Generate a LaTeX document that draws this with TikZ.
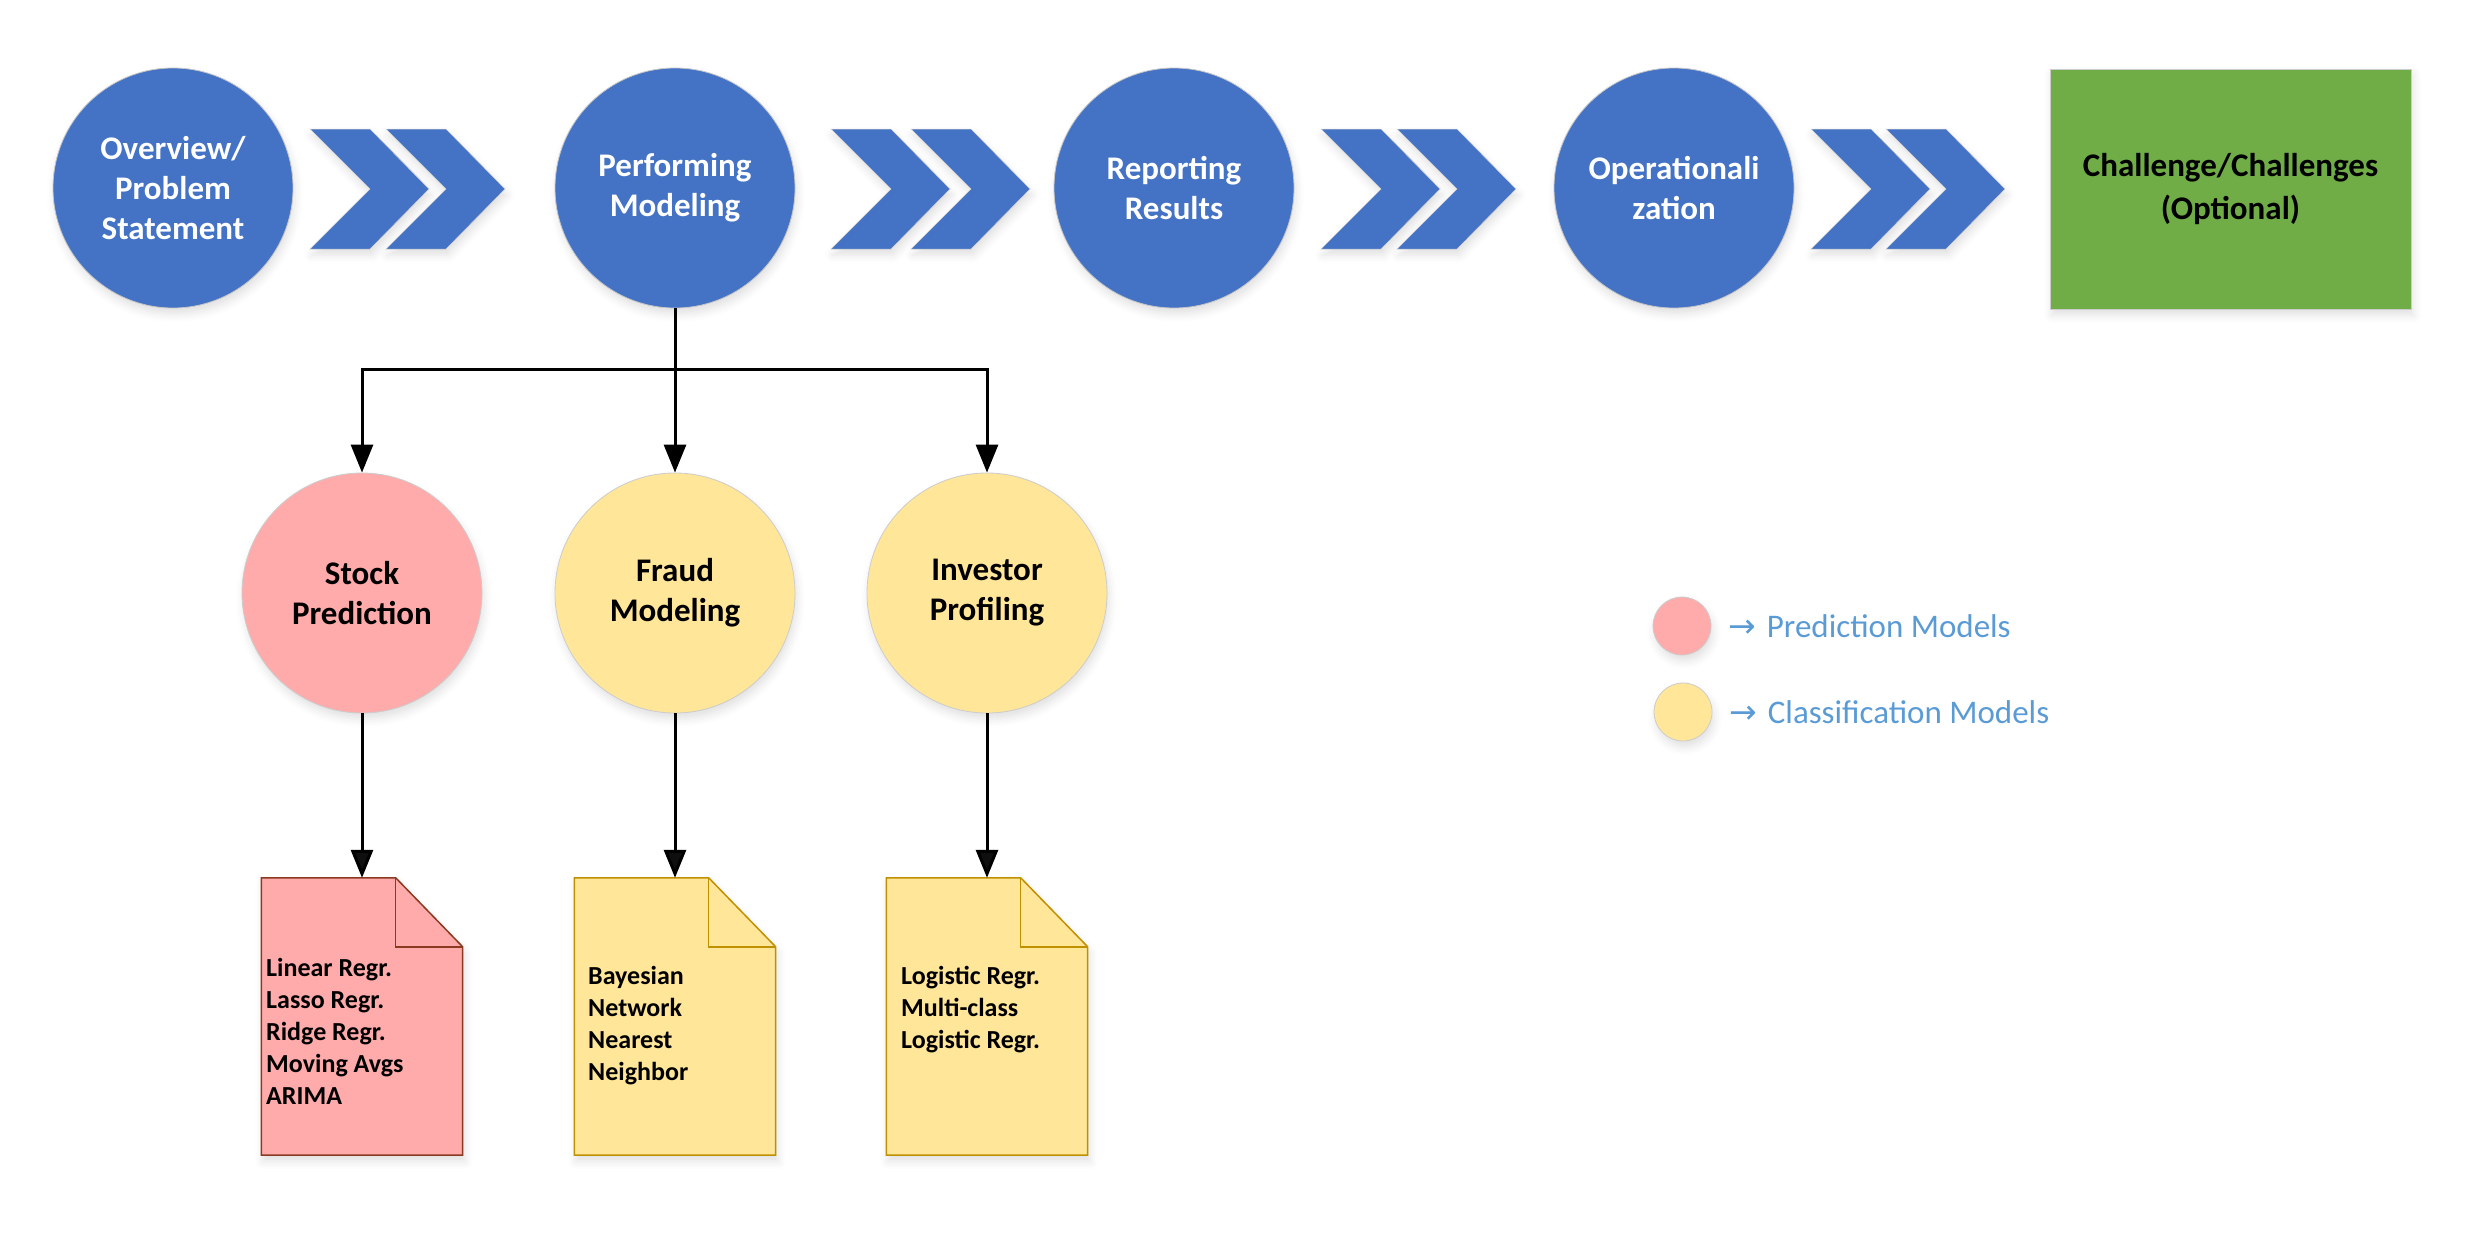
\documentclass[tikz,border=0pt]{standalone}
\usepackage{fontspec}
\setmainfont{Carlito}
\newfontfamily\symfont{DejaVu Sans}
\usetikzlibrary{arrows.meta,shadows.blur}

\definecolor{stageblue}{HTML}{4472C4}
\definecolor{optgreen}{HTML}{70AD47}
\definecolor{predpink}{HTML}{FFABAB}
\definecolor{classyellow}{HTML}{FFE699}
\definecolor{pinkedge}{HTML}{8B3A22}
\definecolor{yellowedge}{HTML}{BF9000}
\definecolor{legendblue}{HTML}{5B9BD5}

\tikzset{
  softshadow/.style={blur shadow={shadow xshift=2pt, shadow yshift=-6pt,
      shadow blur radius=8pt, shadow opacity=12}},
  stage/.style={circle, fill=stageblue, draw=gray!45, line width=0.8pt,
      minimum size=240pt, inner sep=0pt, text=white, align=center,
      font=\bfseries\fontsize{33}{40}\selectfont, softshadow},
  model/.style={circle, draw=gray!40, line width=0.8pt,
      minimum size=240pt, inner sep=0pt, text=black, align=center,
      font=\bfseries\fontsize{33}{40}\selectfont, softshadow},
  optbox/.style={rectangle, fill=optgreen, draw=gray!40, line width=0.8pt,
      minimum width=361pt, minimum height=240pt, inner sep=0pt,
      text=black, align=center,
      font=\bfseries\fontsize{33}{43}\selectfont, softshadow},
  chevfill/.style={fill=stageblue, draw=gray!35, line width=0.5pt, softshadow},
  docbox/.style={rectangle, minimum width=201pt, minimum height=277pt,
      inner sep=0pt, draw=none},
  doctext/.style={anchor=west, align=left, inner sep=0pt,
      font=\bfseries\fontsize{26}{32}\selectfont},
  legdot/.style={circle, draw=gray!40, line width=0.8pt,
      minimum size=58pt, inner sep=0pt, softshadow},
  legtext/.style={anchor=west, inner sep=0pt, text=legendblue,
      font=\fontsize{33}{40}\selectfont},
  conn/.style={line width=3pt, -{Triangle[length=28pt,width=22pt]}},
  chevron/.pic={
    \path[chevfill] (0,0) -- (60,0) -- (119,60) -- (60,120) -- (0,120)
      -- (60,60) -- cycle;
  }
}

\begin{document}
\begin{tikzpicture}[x=1pt,y=-1pt]
\useasboundingbox (0,0) rectangle (2472,1237);

% process stages
\node[stage] (ov) at (173,188) {Overview/\\Problem\\Statement};
\node[stage] (pm) at (675,188) {Performing\\Modeling};
\node[stage] (rr) at (1174,188) {Reporting\\Results};
\node[stage] (op) at (1674,188) {Operationali\\zation};
\node[optbox] (ch) at (2230.5,189) {Challenge/Challenges\\(Optional)};

% double chevrons between stages
\pic at (310,129) {chevron};
\pic at (386,129) {chevron};
\pic at (831,129) {chevron};
\pic at (911,129) {chevron};
\pic at (1321,129) {chevron};
\pic at (1397,129) {chevron};
\pic at (1811,129) {chevron};
\pic at (1886,129) {chevron};

% modelling branches
\node[model, fill=predpink] (sp) at (362,593) {Stock\\Prediction};
\node[model, fill=classyellow] (fm) at (675,593) {Fraud\\Modeling};
\node[model, fill=classyellow] (ip) at (987,593) {Investor\\Profiling};

\coordinate (split) at (675,369);
\draw[conn] (pm.south) -- (fm.north);
\draw[conn] (pm.south) -- (split) -| (sp.north);
\draw[conn] (pm.south) -- (split) -| (ip.north);

% method documents
\node[docbox] (d1) at (362,1016.5) {};
\node[docbox] (d2) at (675,1016.5) {};
\node[docbox] (d3) at (987,1016.5) {};

\foreach \d/\f/\e in {d1/predpink/pinkedge, d2/classyellow/yellowedge, d3/classyellow/yellowedge}{
  \path[fill=\f, draw=\e, line width=1.5pt, softshadow]
    (\d.north west) -- ([xshift=-67pt]\d.north east)
    -- ([yshift=-69pt]\d.north east) -- (\d.south east)
    -- (\d.south west) -- cycle;
  \draw[draw=\e, line width=1.5pt]
    ([xshift=-67pt]\d.north east) |- ([yshift=-69pt]\d.north east);
}

\node[doctext] (t1) at (266,1031) {Linear Regr.\\Lasso Regr.\\Ridge Regr.\\Moving Avgs\\ARIMA};
\node[doctext] (t2) at (588,1026) {Bayesian\\Network\\Nearest\\Neighbor};
\node[doctext] (t3) at (901,1010) {Logistic Regr.\\Multi-class\\Logistic Regr.};

\draw[conn] (sp.south) -- (d1.north);
\draw[conn] (fm.south) -- (d2.north);
\draw[conn] (ip.south) -- (d3.north);

% legend
\node[legdot, fill=predpink] (lg1) at (1682,626) {};
\node[legdot, fill=classyellow] (lg2) at (1683,712) {};
\node[legtext] (lt1) at (1728,626) {{\symfont →}\hspace{11pt}Prediction Models};
\node[legtext] (lt2) at (1729,712) {{\symfont →}\hspace{11pt}Classification Models};
\end{tikzpicture}
\end{document}
